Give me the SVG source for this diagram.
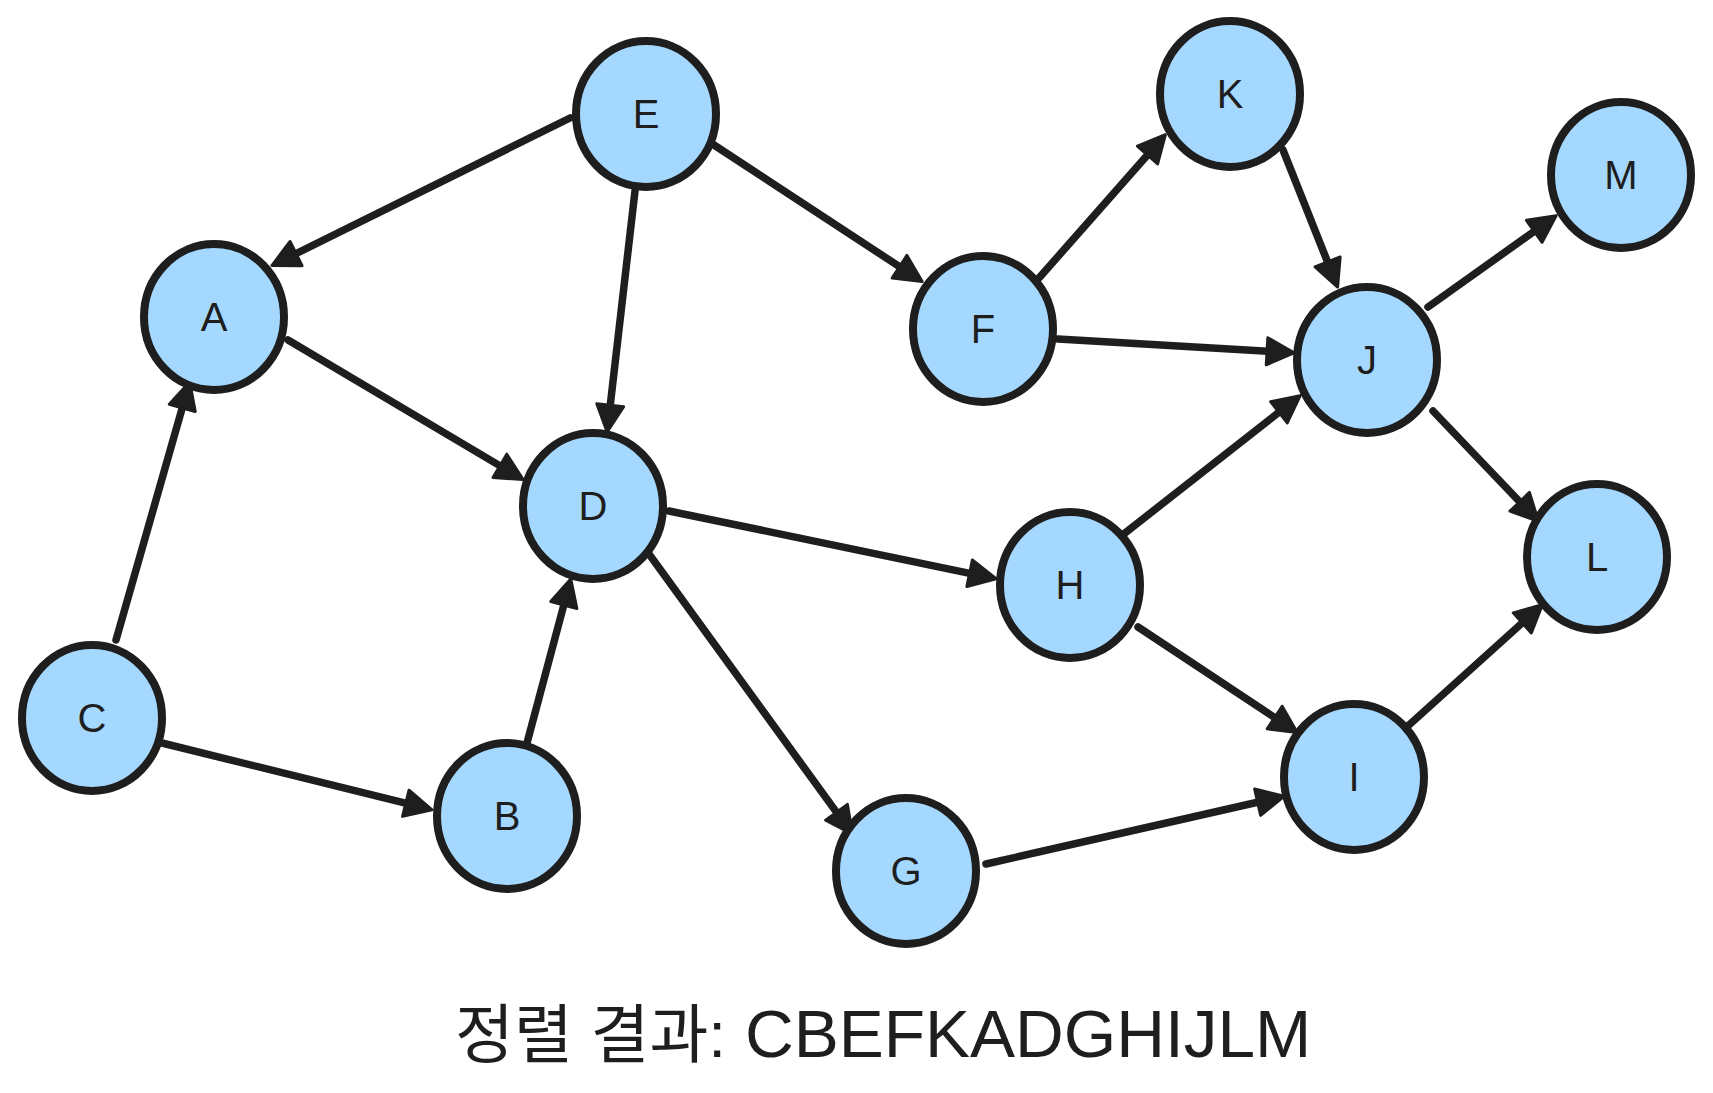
<svg xmlns="http://www.w3.org/2000/svg" width="1713" height="1093" viewBox="0 0 1713 1093">
  <style>
    .node ellipse { fill: #a5d8ff; stroke: #1e1e1e; stroke-width: 8; }
    .node text { font-family: "Liberation Sans", Arial, sans-serif; font-size: 40px; fill: #1e1e1e; text-anchor: middle; }
    .edge { fill: none; stroke: #1e1e1e; stroke-width: 7.5; stroke-linecap: round; marker-end: url(#arrow); }
    .caption { font-family: "Liberation Sans", "Noto Sans CJK KR", sans-serif; fill: #1e1e1e; }
  </style>
  <defs>
    <marker id="arrow" viewBox="0 0 31 31" markerWidth="31" markerHeight="31" markerUnits="userSpaceOnUse" refX="12" refY="15.5" orient="auto">
      <path d="M2,2 L29,15.5 L2,29 Z" fill="#1e1e1e" stroke="#1e1e1e" stroke-width="3" stroke-linejoin="round"/>
    </marker>
  </defs>
  <rect width="1713" height="1093" fill="#ffffff"/>

  <g id="connectors">
    <path class="edge" d="M570,118 L287.1,258"/>
    <path class="edge" d="M635,191 L609.1,415.1"/>
    <path class="edge" d="M714,145 L907.9,272.2"/>
    <path class="edge" d="M288,340 L508.5,470.9"/>
    <path class="edge" d="M116,640 L185,398.3"/>
    <path class="edge" d="M162,743 L415.5,805.7"/>
    <path class="edge" d="M527,743 L566.4,595.4"/>
    <path class="edge" d="M669,511 L979.4,575.3"/>
    <path class="edge" d="M649,554 L842.4,820.4"/>
    <path class="edge" d="M1039,278 L1154.1,147.5"/>
    <path class="edge" d="M1058,339 L1277,351.9"/>
    <path class="edge" d="M1283,150 L1331.3,271.3"/>
    <path class="edge" d="M1428,307 L1542.4,225.5"/>
    <path class="edge" d="M1433,411 L1526.6,509"/>
    <path class="edge" d="M1125,533 L1286.8,406.1"/>
    <path class="edge" d="M1138,627 L1283,723.1"/>
    <path class="edge" d="M986,864 L1267.4,800"/>
    <path class="edge" d="M1409,725 L1529.7,616.2"/>
  </g>

  <g id="node-A" class="node"><ellipse cx="214" cy="317" rx="70" ry="73"/><text x="214" y="331">A</text></g>
  <g id="node-B" class="node"><ellipse cx="507" cy="816" rx="70" ry="73"/><text x="507" y="830">B</text></g>
  <g id="node-C" class="node"><ellipse cx="92" cy="718" rx="70" ry="73"/><text x="92" y="732">C</text></g>
  <g id="node-D" class="node"><ellipse cx="593" cy="506" rx="70" ry="73"/><text x="593" y="520">D</text></g>
  <g id="node-E" class="node"><ellipse cx="646" cy="114" rx="70" ry="73"/><text x="646" y="128">E</text></g>
  <g id="node-F" class="node"><ellipse cx="983" cy="329" rx="70" ry="73"/><text x="983" y="343">F</text></g>
  <g id="node-G" class="node"><ellipse cx="906" cy="871" rx="70" ry="73"/><text x="906" y="885">G</text></g>
  <g id="node-H" class="node"><ellipse cx="1070" cy="585" rx="70" ry="73"/><text x="1070" y="599">H</text></g>
  <g id="node-I" class="node"><ellipse cx="1354" cy="777" rx="70" ry="73"/><text x="1354" y="791">I</text></g>
  <g id="node-J" class="node"><ellipse cx="1367" cy="360" rx="70" ry="73"/><text x="1367" y="374">J</text></g>
  <g id="node-K" class="node"><ellipse cx="1230" cy="94" rx="70" ry="73"/><text x="1230" y="108">K</text></g>
  <g id="node-L" class="node"><ellipse cx="1597" cy="557" rx="70" ry="73"/><text x="1597" y="571">L</text></g>
  <g id="node-M" class="node"><ellipse cx="1621" cy="175" rx="70" ry="73"/><text x="1621" y="189">M</text></g>

  <text id="caption" class="caption" y="1057"><tspan x="455" font-size="64">정렬 결과:</tspan><tspan x="745" font-size="67.5">CBEFKADGHIJLM</tspan></text>
</svg>
